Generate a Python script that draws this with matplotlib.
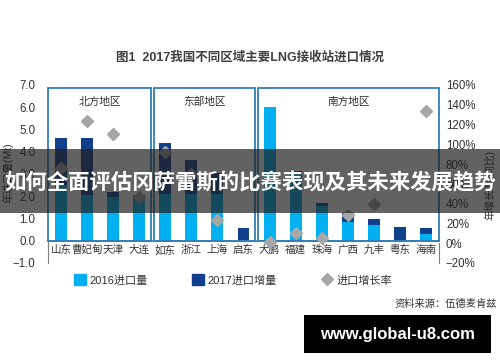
import numpy as np
import matplotlib
matplotlib.use("Agg")
import matplotlib.pyplot as plt
from matplotlib.patches import Rectangle, Patch
from matplotlib.lines import Line2D

# LNG terminal imports by region (Mt) and year-on-year growth (%)
categories = ["山东", "曹妃甸", "天津", "大连", "如东", "浙江", "上海", "启东",
              "大鹏", "福建", "珠海", "广西", "九丰", "粤东", "海南"]
imports_2016 = [2.5, 2.05, 1.95, 2.0, 2.1, 2.1, 2.1, 0.0,
                6.0, 3.0, 1.55, 0.85, 0.7, 0.0, 0.3]
increase_2017 = [2.1, 2.55, 0.25, 0.07, 2.3, 1.55, 0.95, 0.58,
                 0.0, 0.15, 0.15, 0.4, 0.28, 0.62, 0.28]
growth_pct = [76, 124, 110, 47, 92, 70, 23, np.nan,
              1, 10, 5, 29, 40, np.nan, 134]
regions = ["北方地区", "东部地区", "南方地区"]
region_sizes = [4, 4, 7]
left_ticks = [-1, 0, 1, 2, 3, 4, 5, 6, 7]
right_ticks = [-20, 0, 20, 40, 60, 80, 100, 120, 140, 160]

LIGHT = "#00b0f0"
DARK = "#123f8c"
GRAY = "#a6a6a6"
BOX = "#2f7fb8"
TXT = "#333333"

plt.rcParams["font.family"] = ["Liberation Sans", "Noto Sans CJK SC"]

fig = plt.figure(figsize=(5, 3.62), dpi=100)
ax = fig.add_axes([0.096, 0.2735, 0.782, 0.4917])

x = np.arange(len(categories))
ax.bar(x, imports_2016, width=0.46, color=LIGHT, zorder=2)
ax.bar(x, increase_2017, bottom=imports_2016, width=0.46, color=DARK, zorder=2)

ax.set_xlim(-0.5, len(categories) - 0.5)
ax.set_ylim(-1, 7)
ax.set_yticks(left_ticks)
ax.set_yticklabels([f"{v:.1f}".replace("-", "\u2212") for v in left_ticks])
ax.set_xticks(x)
ax.set_xticklabels(categories)
ax.tick_params(axis="y", length=0, pad=9, labelsize=8.3, labelcolor=TXT)
ax.tick_params(axis="x", length=0, pad=3, labelsize=7.6, labelcolor=TXT)

for s in ("top", "right"):
    ax.spines[s].set_visible(False)
ax.spines["bottom"].set_position(("data", 0))
ax.spines["bottom"].set_color(BOX)
ax.spines["bottom"].set_linewidth(1.2)
ax.spines["left"].set_bounds(-1, 0)
ax.spines["left"].set_color("#7f7f7f")

# region frames
start = 0
for name, n in zip(regions, region_sizes):
    lo = start - 0.5 + (0.05 if start > 0 else 0)
    hi = start + n - 0.5 - (0.05 if start + n < len(categories) else 0)
    ax.add_patch(Rectangle((lo, 0), hi - lo, 6.88, fill=False,
                           edgecolor=BOX, linewidth=1.3, zorder=3, clip_on=False))
    ax.text((lo + hi) / 2, 6.25, name, ha="center", va="center",
            fontsize=7.7, color=TXT, zorder=4)
    start += n

ax2 = ax.twinx()
ax2.plot(x, growth_pct, linestyle="none", marker="D", markersize=6,
         color=GRAY, zorder=5)
ax2.set_ylim(-20, 160)
ax2.set_yticks(right_ticks)
ax2.set_yticklabels([f"{v}%".replace("-", "\u2212") for v in right_ticks])
ax2.tick_params(axis="y", length=0, pad=5, labelsize=8.3, labelcolor=TXT)
for s in ("top", "left", "bottom"):
    ax2.spines[s].set_visible(False)
ax2.spines["right"].set_bounds(-20, 0)
ax2.spines["right"].set_color("#7f7f7f")

fig.text(0.016, 1 - 173 / 362, "年进口量(Mt)", rotation=90, ha="center",
         va="center", fontsize=7.6, color=TXT)
fig.text(0.98, 1 - 185 / 362, "年增长率(同比)", rotation=90, ha="center",
         va="center", fontsize=7.6, color=TXT)

fig.text(0.5, 1 - 57 / 362, "图1  2017我国不同区域主要LNG接收站进口情况",
         ha="center", va="center", fontsize=9, fontweight="bold", color="#404040")

handles = [Patch(color=LIGHT), Patch(color=DARK),
           Line2D([], [], linestyle="none", marker="D", markersize=6, color=GRAY)]
fig.legend(handles, ["2016进口量", "2017进口增量", "进口增长率"],
           loc="center", bbox_to_anchor=(0.466, 1 - 280 / 362), ncol=3,
           frameon=False, fontsize=8, handlelength=1.1, handleheight=1.1,
           handletextpad=0.3, columnspacing=4.0, labelcolor=TXT)

fig.text(0.994, 1 - 304 / 362, "资料来源：伍德麦肯兹", ha="right", va="center",
         fontsize=7.4, color=TXT)

# headline banner
fig.add_artist(Rectangle((0, 1 - 213 / 362), 1, 64 / 362, transform=fig.transFigure,
                         facecolor=(0.12, 0.12, 0.12), alpha=0.7,
                         edgecolor="none", zorder=10))
fig.text(0.5, 1 - 183 / 362, "如何全面评估冈萨雷斯的比赛表现及其未来发展趋势",
         ha="center", va="center", fontsize=15.4, fontweight="bold",
         color="white", family=["Noto Sans CJK SC"], zorder=11)

# site tag
fig.add_artist(Rectangle((304 / 500, 1 - 353 / 362), 187 / 500, 38 / 362,
                         transform=fig.transFigure, facecolor="black",
                         edgecolor="none", zorder=10))
fig.text(397 / 500, 1 - 334 / 362, "www.global-u8.com", ha="center", va="center",
         fontsize=12, fontweight="bold", color="white", zorder=11)

fig.savefig("out.png", dpi=100)
